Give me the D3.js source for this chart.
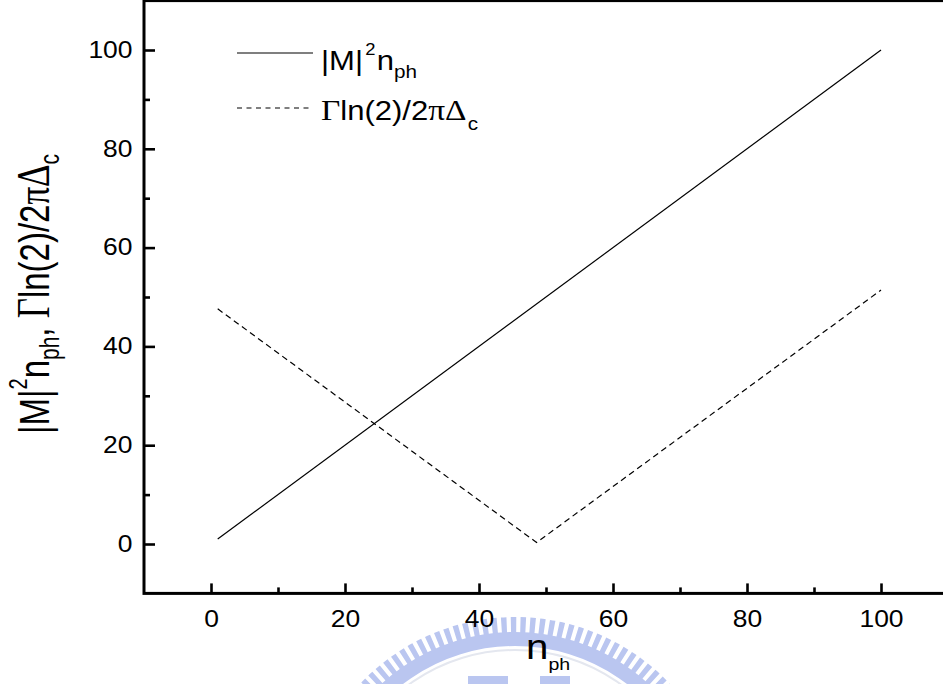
<!DOCTYPE html>
<html>
<head>
<meta charset="utf-8">
<script src="https://cdn.jsdelivr.net/npm/d3@7"></script>
<style>
  body { margin: 0; background: #fff; }
  svg { display: block; }
  text { font-family: "Liberation Sans", Arial, sans-serif; fill: #000; }
</style>
</head>
<body>
<div id="plotdiv"></div>
<script>
// data
var xMajor = [0, 20, 40, 60, 80, 100];
var xMinor = [10, 30, 50, 70, 90];
var yMajor = [0, 20, 40, 60, 80, 100];
var yMinor = [10, 30, 50, 70, 90];
var solidX = [1, 100];
var solidY = [1, 100];
var dashX = [1, 48.6, 100];
var dashY = [47.6, 0.3, 51.4];

var width = 943, height = 684;
var stretch = 1.15; // the original picture is a bit wider than tall, text too
var svg = d3.select("#plotdiv").append("svg")
	.attr("width", width)
	.attr("height", height);

var x = d3.scaleLinear().domain([-10, 110]).range([144, 948]);
var y = d3.scaleLinear().domain([-10, 110]).range([593.4, 0.6]);

// faded watermark behind everything
var wm = svg.append("g").attr("fill", "#bac6f0");
var cx = 515, cy = 830;
var teeth = d3.range(-64, 64.1, 2.65);
wm.selectAll("path.tooth")
	.data(teeth)
	.enter().append("path")
	.attr("class", "tooth")
	.attr("transform", "translate(" + cx + "," + cy + ")")
	.attr("d", function(a){
		var r = a * Math.PI / 180;
		return d3.arc()({innerRadius: 190, outerRadius: 213, startAngle: r - 0.013, endAngle: r + 0.013});
	});
wm.append("path")
	.attr("transform", "translate(" + cx + "," + cy + ")")
	.attr("d", d3.arc()({innerRadius: 184, outerRadius: 198, startAngle: -1.2, endAngle: 1.2}));
wm.append("path")
	.attr("transform", "translate(" + cx + "," + cy + ")")
	.attr("fill", "#e4e7ef")
	.attr("d", d3.arc()({innerRadius: 179, outerRadius: 181, startAngle: -1.2, endAngle: 1.2}));
wm.append("rect").attr("x", 468).attr("y", 676).attr("width", 40).attr("height", 8);
wm.append("rect").attr("x", 540).attr("y", 676).attr("width", 30).attr("height", 8);

// axes with inward ticks
var xAxis = svg.append("g")
	.attr("transform", "translate(0," + y(-10) + ")")
	.call(d3.axisBottom(x).tickValues(xMajor).tickSize(-10).tickPadding(17).tickFormat(d3.format("d")));
var xAxisMinor = svg.append("g")
	.attr("transform", "translate(0," + y(-10) + ")")
	.call(d3.axisBottom(x).tickValues(xMinor).tickSize(-6).tickFormat(""));
var yAxis = svg.append("g")
	.attr("transform", "translate(" + x(-10) + ",0)")
	.call(d3.axisLeft(y).tickValues(yMajor).tickSize(-11).tickPadding(10).tickFormat(d3.format("d")));
var yAxisMinor = svg.append("g")
	.attr("transform", "translate(" + x(-10) + ",0)")
	.call(d3.axisLeft(y).tickValues(yMinor).tickSize(-6).tickFormat(""));

svg.selectAll(".domain").remove();
svg.selectAll(".tick line").attr("stroke", "#000").attr("stroke-width", 2.6);
svg.selectAll(".tick text")
	.style("font-family", "'Liberation Sans', Arial, sans-serif")
	.style("font-size", "23px")
	.attr("fill", "#000")
	.attr("transform", "scale(" + stretch + ",1)");

// frame
svg.append("rect")
	.attr("x", x(-10))
	.attr("y", y(110))
	.attr("width", x(110) - x(-10))
	.attr("height", y(-10) - y(110))
	.attr("fill", "none")
	.attr("stroke", "#000")
	.attr("stroke-width", 3);

// series
var line = d3.line().x(function(d){return x(d[0]);}).y(function(d){return y(d[1]);});
svg.append("path")
	.attr("d", line(d3.zip(solidX, solidY)))
	.attr("fill", "none")
	.attr("stroke", "#000")
	.attr("stroke-width", 1.2);
svg.append("path")
	.attr("d", line(d3.zip(dashX, dashY)))
	.attr("fill", "none")
	.attr("stroke", "#000")
	.attr("stroke-width", 1.2)
	.attr("stroke-dasharray", "6,4");

// legend
svg.append("line")
	.attr("x1", 237).attr("x2", 313).attr("y1", 53).attr("y2", 53)
	.attr("stroke", "#000").attr("stroke-width", 1.2);
svg.append("line")
	.attr("x1", 237).attr("x2", 313).attr("y1", 108).attr("y2", 108)
	.attr("stroke", "#000").attr("stroke-width", 1.2)
	.attr("stroke-dasharray", "5,4.5");

var serif = "'Liberation Serif', 'Times New Roman', serif";
var leg1 = svg.append("text")
	.attr("transform", "translate(321,70) scale(" + stretch + ",1)")
	.style("font-size", "27px");
leg1.append("tspan").text("|M|");
leg1.append("tspan").attr("dx", 2).attr("dy", -15).style("font-size", "16px").text("2");
leg1.append("tspan").attr("dx", 1).attr("dy", 15).text("n");
leg1.append("tspan").attr("dy", 8).style("font-size", "18px").text("ph");

var leg2 = svg.append("text")
	.attr("transform", "translate(321,120) scale(" + stretch + ",1)")
	.style("font-size", "27px");
leg2.append("tspan").style("font-family", serif).style("font-size", "29px").text("\u0393");
leg2.append("tspan").text("ln(2)/2");
leg2.append("tspan").style("font-family", serif).style("font-size", "29px").text("\u03C0\u0394");
leg2.append("tspan").attr("dx", 1).attr("dy", 10).style("font-size", "18px").text("c");

// x title
var xt = svg.append("text")
	.attr("transform", "translate(526,659) scale(" + stretch + ",1)")
	.style("font-size", "35px");
xt.append("tspan").text("n");
xt.append("tspan").attr("dy", 11).style("font-size", "17px").text("ph");

// y title, glyphs drawn taller across the page like the original
var yt = svg.append("text")
	.attr("transform", "translate(49,294) rotate(-90) scale(1,1.3)")
	.attr("text-anchor", "middle")
	.style("font-size", "33px");
yt.append("tspan").text("|M|");
yt.append("tspan").attr("dy", -17).style("font-size", "20px").text("2");
yt.append("tspan").attr("dy", 17).text("n");
yt.append("tspan").attr("dy", 8).style("font-size", "21px").text("ph");
yt.append("tspan").attr("dy", -8).text(", ");
yt.append("tspan").style("font-family", serif).style("font-size", "35px").text("\u0393");
yt.append("tspan").text("ln(2)/2");
yt.append("tspan").style("font-family", serif).style("font-size", "35px").text("\u03C0\u0394");
yt.append("tspan").attr("dy", 8).style("font-size", "21px").text("c");
</script>
</body>
</html>
